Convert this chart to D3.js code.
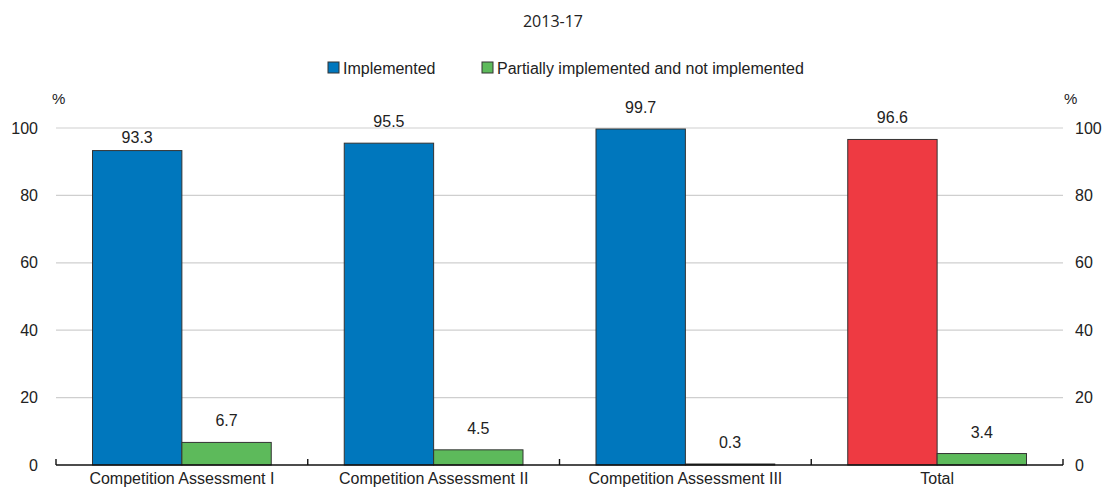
<!DOCTYPE html>
<html><head><meta charset="utf-8">
<script src="https://cdn.jsdelivr.net/npm/d3@7"></script>
<style>
body{margin:0;background:#fff;}
text{font-family:"Liberation Sans Narrow","Arial Narrow","Liberation Sans",sans-serif;fill:#222;}
</style></head>
<body><svg id="c" width="1106" height="490"></svg>
<script>
const subtitle = "2013-17";
const categories = ["Competition Assessment I","Competition Assessment II","Competition Assessment III","Total"];
const seriesNames = ["Implemented","Partially implemented and not implemented"];
const implemented = [93.3, 95.5, 99.7, 96.6];
const notImplemented = [6.7, 4.5, 0.3, 3.4];
const yTicks = [0,20,40,60,80,100];
const unitLabel = "%";

const colBlue = "#0077bd", colGreen = "#5dba5b", colRed = "#ee3a42";
const svg = d3.select("#c");
const L = 56, R = 1063, T = 128, B = 465;
const x = d3.scaleBand().domain(categories).range([L,R]).paddingInner(0.29).paddingOuter(0.145);
const xs = d3.scaleBand().domain(seriesNames).range([0, x.bandwidth()]);
const y = d3.scaleLinear().domain([0,100]).range([B,T]);

svg.append("text").attr("x",553).attr("y",27).attr("text-anchor","middle")
  .style("font-family","'Open Sans',sans-serif").style("font-size","16px").text(subtitle);

// gridlines
svg.append("g").selectAll("line").data(yTicks.filter(d=>d>0)).join("line")
  .attr("x1",L).attr("x2",R).attr("y1",d=>y(d)).attr("y2",d=>y(d))
  .attr("stroke","#cfcfcf").attr("stroke-width",1.2);

// y labels
const yl = d3.axisLeft(y).tickValues(yTicks).tickSize(0).tickPadding(18);
const gl = svg.append("g").attr("transform",`translate(${L},0)`).call(yl);
gl.select(".domain").remove();
gl.selectAll("text").style("font-size","16px").style("font-family","'Liberation Sans',sans-serif").attr("fill","#222");
const yr = d3.axisRight(y).tickValues(yTicks).tickSize(0).tickPadding(12);
const gr = svg.append("g").attr("transform",`translate(${R},0)`).call(yr);
gr.select(".domain").remove();
gr.selectAll("text").style("font-size","16px").style("font-family","'Liberation Sans',sans-serif").attr("fill","#222");
svg.append("text").attr("x",52).attr("y",104).style("font-size","15px").text(unitLabel);
svg.append("text").attr("x",1064).attr("y",104).style("font-size","15px").text(unitLabel);

// bars
const rows = categories.map((c,i)=>({c, vals:[implemented[i], notImplemented[i]]}));
const g = svg.append("g");
rows.forEach((r,i)=>{
  r.vals.forEach((v,j)=>{
    const s = seriesNames[j];
    const fill = j===0 ? (r.c==="Total"?colRed:colBlue) : colGreen;
    const bx = x(r.c)+xs(s);
    g.append("rect").attr("x",bx).attr("y",y(v)).attr("width",xs.bandwidth()).attr("height",B-y(v))
      .attr("fill",fill).attr("stroke","#333").attr("stroke-width",1);
    g.append("text").attr("x",bx+xs.bandwidth()/2).attr("y",y(v)-(v===93.3?8:16))
      .attr("text-anchor","middle").style("font-size","16px").text(v.toFixed(1));
  });
});

// x axis
const xa = d3.axisBottom(x).tickSize(0).tickPadding(8);
const gx = svg.append("g").attr("transform",`translate(0,${B})`).call(xa);
gx.select(".domain").remove();
gx.selectAll("text").style("font-size","16px").style("font-family","'Liberation Sans',sans-serif").attr("fill","#222");
svg.append("line").attr("x1",L).attr("x2",R).attr("y1",B).attr("y2",B).attr("stroke","#111").attr("stroke-width",1.6);
const bounds = categories.map(c=>x(c)-x.step()*x.paddingInner()/2).concat([R]);
svg.append("g").selectAll("line").data(bounds).join("line")
  .attr("x1",d=>d).attr("x2",d=>d).attr("y1",B).attr("y2",B-6).attr("stroke","#111").attr("stroke-width",1.4);

// legend
const legX = [328, 482];
seriesNames.forEach((s,j)=>{
  svg.append("rect").attr("x",legX[j]).attr("y",62).attr("width",11).attr("height",11)
    .attr("fill", j===0?colBlue:colGreen).attr("stroke","#333").attr("stroke-width",1);
  svg.append("text").attr("x",legX[j]+15).attr("y",74).style("font-size","16px").text(s);
});
</script></body></html>
